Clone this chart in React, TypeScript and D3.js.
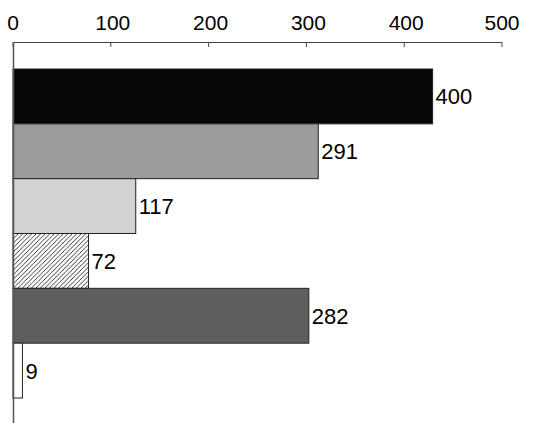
import React from "react";
import * as d3 from "d3";

const categories = ["A", "B", "C", "D", "E", "F"];
const values = [400, 291, 117, 72, 282, 9];
const tickValues = [0, 100, 200, 300, 400, 500];
const fills = ["#060606", "#9c9c9c", "#d2d2d2", "url(#pHatch)", "#5e5e5e", "#ffffff"];

const W = 559;
const H = 423;

export default function App() {
  const xAxis = d3.scaleLinear().domain([0, 500]).range([13, 502]);
  const xBar = d3.scaleLinear().domain([0, 500]).range([13, 537.5]);
  const y = d3.scaleBand<string>().domain(categories).range([69, 398]).padding(0);
  const font = "'Liberation Sans', Arial, Helvetica, sans-serif";

  return (
    <svg
      width={W}
      height={H}
      style={{ position: "absolute", left: 0, top: 0, background: "#fff" }}
    >
      <defs>
        <pattern id="pHatch" width="4.5" height="4.5" patternUnits="userSpaceOnUse">
          <rect width="4.5" height="4.5" fill="#fff" />
          <path d="M-1,1 L1,-1 M0,4.5 L4.5,0 M3.5,5.5 L5.5,3.5" stroke="#222" strokeWidth="0.9" />
        </pattern>
      </defs>

      {values.map((v, i) => {
        const c = categories[i];
        const y0 = y(c) as number;
        return (
          <rect
            key={c}
            x={xBar(0)}
            y={y0}
            width={xBar(v) - xBar(0)}
            height={y.bandwidth()}
            fill={fills[i]}
            stroke="#222"
            strokeWidth={1}
          />
        );
      })}

      {values.map((v, i) => {
        const c = categories[i];
        const cy = (y(c) as number) + y.bandwidth() / 2;
        return (
          <text
            key={"l" + c}
            x={xBar(v) + 3}
            y={cy}
            dy="0.36em"
            fontFamily={font}
            fontSize={22}
            fill="#000"
          >
            {v}
          </text>
        );
      })}

      <line x1={xAxis(0)} x2={xAxis(500)} y1={42.5} y2={42.5} stroke="#444" strokeWidth={1} />
      {tickValues.map((t) => (
        <g key={"t" + t}>
          <line x1={xAxis(t)} x2={xAxis(t)} y1={42.5} y2={47} stroke="#444" strokeWidth={1} />
          <text
            x={xAxis(t) + (t === 0 || t === 500 ? 0 : 2)}
            y={30}
            textAnchor="middle"
            fontFamily={font}
            fontSize={21}
            fill="#000"
          >
            {t}
          </text>
        </g>
      ))}

      <line x1={13.5} x2={13.5} y1={42} y2={H} stroke="#555" strokeWidth={1.5} />
    </svg>
  );
}
